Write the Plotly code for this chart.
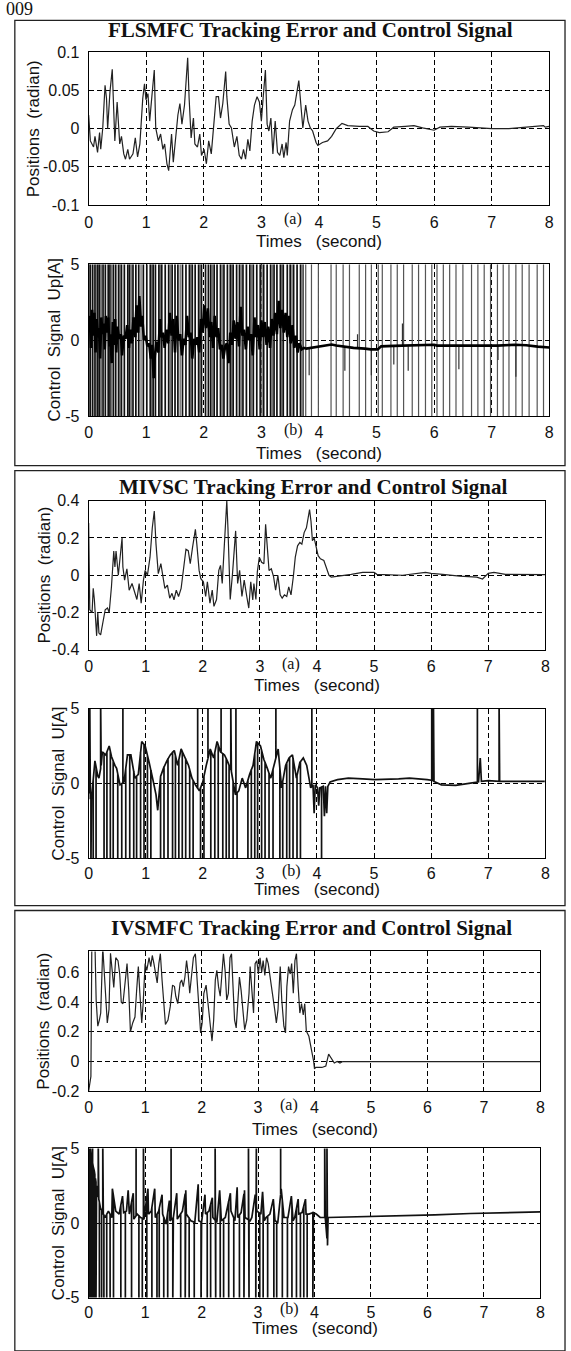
import plotly.graph_objects as go

# ---------------- DATA ----------------
# (1a) FLSMFC tracking error [rad]
t1a = [0.00,0.03,0.085,0.11,0.155,0.19,0.21,0.245,0.285,0.31,0.33,0.37,0.41,0.455,0.495,0.54,0.57,0.61,0.64,0.68,
       0.71,0.77,0.81,0.85,0.89,0.94,0.97,0.995,1.03,1.06,1.10,1.14,1.165,1.21,1.25,1.29,1.32,1.36,1.39,1.44,
       1.47,1.52,1.55,1.585,1.62,1.665,1.72,1.745,1.78,1.82,1.845,1.89,1.93,1.96,2.005,2.045,2.085,2.13,2.175,2.215,
       2.255,2.29,2.33,2.38,2.40,2.44,2.48,2.53,2.575,2.615,2.655,2.69,2.725,2.765,2.80,2.84,2.88,2.925,2.965,3.00,
       3.03,3.07,3.10,3.13,3.165,3.20,3.24,3.28,3.32,3.36,3.39,3.43,3.45,3.49,3.54,3.58,3.65,3.675,3.72,3.77,
       3.81,3.85,3.89,3.95,3.98,4.06,4.15,4.22,4.30,4.40,4.50,4.70,4.85,4.95,5.05,5.20,5.30,5.50,5.65,5.80,
       6.00,6.10,6.30,6.60,7.00,7.30,7.60,7.90,7.93,8.00]
e1a = [0.018,-0.016,-0.024,-0.010,-0.031,-0.005,-0.027,0.001,0.057,0.040,0.000,0.048,0.078,-0.016,0.035,-0.020,-0.010,-0.033,-0.040,-0.027,
       -0.040,-0.033,-0.012,-0.037,-0.020,0.040,0.059,0.038,0.046,0.010,0.044,0.077,0.001,-0.016,-0.007,-0.027,-0.020,-0.046,-0.055,-0.007,
       -0.044,-0.005,0.018,0.033,0.006,0.031,0.093,0.040,-0.012,0.014,-0.020,-0.024,-0.007,-0.035,-0.027,-0.046,-0.016,-0.033,0.010,0.042,
       0.042,0.014,0.033,0.075,0.042,0.006,0.001,-0.024,-0.010,-0.035,-0.040,-0.027,-0.040,-0.014,-0.029,0.010,0.031,0.042,0.035,0.010,
       0.040,0.077,0.006,-0.003,0.014,-0.033,0.010,-0.031,-0.035,-0.020,-0.038,-0.018,-0.035,0.010,0.025,0.031,0.063,0.040,0.001,0.031,
       0.010,0.001,-0.003,-0.018,-0.022,-0.018,-0.016,-0.010,0.000,0.007,0.004,0.003,0.003,-0.003,-0.005,-0.004,0.002,0.003,0.004,0.001,
       -0.002,0.002,0.003,0.002,0.000,0.000,0.002,0.004,0.002,0.003]

# (1b) FLSMFC control signal Up [A]
t1b = [0.00,0.02,0.04,0.06,0.08,0.10,0.12,0.14,0.16,0.18,0.20,0.22,0.24,0.26,0.28,0.30,0.32,0.34,0.36,0.38,
       0.40,0.42,0.44,0.46,0.48,0.50,0.53,0.56,0.58,0.61,0.64,0.67,0.70,0.72,0.75,0.78,0.81,0.83,0.86,0.88,
       0.91,0.93,0.96,0.99,1.02,1.05,1.08,1.10,1.13,1.15,1.18,1.21,1.24,1.26,1.29,1.32,1.35,1.38,1.41,1.44,
       1.47,1.50,1.53,1.56,1.59,1.62,1.65,1.68,1.71,1.74,1.77,1.80,1.83,1.86,1.89,1.92,1.95,1.98,2.01,2.04,
       2.07,2.10,2.13,2.16,2.19,2.22,2.25,2.28,2.31,2.34,2.37,2.40,2.43,2.46,2.49,2.52,2.55,2.58,2.61,2.64,
       2.67,2.70,2.73,2.76,2.79,2.82,2.85,2.88,2.91,2.94,2.97,3.00,3.03,3.06,3.09,3.12,3.15,3.18,3.21,3.24,
       3.27,3.30,3.33,3.36,3.39,3.42,3.45,3.48,3.51,3.54,3.57,3.60,3.63,3.66,3.70,3.74,3.78,3.85,3.95,4.05,
       4.15,4.22,4.30,4.45,4.60,4.80,4.90,5.02,5.08,5.30,5.60,5.80,6.00,6.05,6.50,6.80,7.10,7.40,7.60,7.80,8.00]
u1b = [0.5,1.6,-0.5,2.0,0.3,1.8,-0.8,1.4,0.2,0.8,-1.2,1.5,0.4,1.1,-0.6,1.6,0.5,1.5,-0.4,0.4,
       -1.5,1.2,-0.3,1.4,-0.8,0.9,0.1,0.4,-1.0,0.3,0.1,1.0,-0.5,0.7,-0.2,1.5,0.2,2.3,0.5,2.9,
       0.9,1.6,0.0,0.3,-0.4,-0.2,-1.2,-0.3,-2.5,-1.0,-0.1,-0.8,1.4,0.2,0.5,-0.5,0.7,-0.2,1.8,0.3,
       1.4,-0.8,1.6,0.0,0.4,-1.0,0.1,-0.3,1.6,0.2,0.5,-1.2,0.1,-0.3,0.2,-0.8,1.4,0.5,2.3,0.8,
       2.1,0.2,1.2,-0.5,1.6,0.2,0.8,-0.6,-0.3,-1.2,-0.4,-0.2,-1.5,0.5,-0.3,1.3,0.1,1.2,-0.4,2.2,
       0.3,0.7,-0.6,0.9,0.0,0.4,-1.0,1.5,0.2,1.0,-0.6,1.3,0.2,1.2,-0.3,0.9,-0.5,1.4,0.3,1.8,
       0.4,2.6,0.8,2.0,0.5,1.8,0.2,1.6,-0.2,1.0,-0.5,0.3,-0.8,-0.2,-0.6,-0.5,-0.55,-0.5,-0.45,-0.4,
       -0.3,-0.28,-0.35,-0.43,-0.5,-0.55,-0.6,-0.6,-0.4,-0.37,-0.35,-0.36,-0.3,-0.35,-0.37,-0.36,-0.35,-0.3,-0.33,-0.42,-0.48]
full1b_dense = [0.03,0.07,0.11,0.16,0.19,0.25,0.29,0.34,0.37,0.43,0.47,0.52,0.57,0.62,0.68,0.71,0.77,0.82,0.87,0.95,
                1.01,1.07,1.12,1.16,1.22,1.27,1.33,1.39,1.45,1.50,1.55,1.63,1.69,1.75,1.80,1.85,1.91,1.96,2.03,2.08,
                2.12,2.18,2.23,2.29,2.35,2.41,2.46,2.51,2.57,2.62,2.68,2.74,2.80,2.86,2.92,2.98,3.04,3.10,3.16,3.22,
                3.27,3.33,3.38,3.45,3.50,3.56,3.62,3.68]
full1b_gray = [0.01,0.135,0.22,0.40,0.545,0.74,0.91,1.095,1.245,1.42,1.59,1.775,1.935,2.15,2.32,2.485,2.65,2.83,3.01,3.19,
               3.355,3.53,3.71]
full1b_sparse = [3.73,3.77,3.87,3.99,4.21,4.30,4.42,4.53,4.70,4.81,4.91,5.03,5.10,5.25,5.36,5.47,5.62,5.73,5.85,5.96,
                 6.05,6.16,6.27,6.38,6.50,6.65,6.76,6.87,6.98,7.10,7.20,7.30,7.42,7.53,7.65,7.79,7.90]
part1b_t  = [3.83,4.45,4.67,4.91,5.30,5.45,5.55,6.43,7.11,7.42]
part1b_lo = [-2.3,-2.0,-0.5,-2.3,-1.6,-0.4,-2.0,-1.9,-1.3,-2.4]
part1b_hi = [-0.5,-0.4,0.4,-0.55,-0.4,1.1,-0.4,-0.4,-0.35,-0.35]

# (2a) MIVSC tracking error [rad]
t2a = [0.00,0.02,0.06,0.08,0.10,0.14,0.16,0.18,0.21,0.25,0.29,0.33,0.36,0.40,0.44,0.46,0.48,0.52,0.55,0.585,
       0.60,0.63,0.67,0.71,0.76,0.80,0.845,0.885,0.92,0.96,0.99,1.03,1.075,1.115,1.15,1.18,1.22,1.265,1.305,1.335,
       1.38,1.42,1.46,1.495,1.535,1.575,1.62,1.665,1.705,1.745,1.78,1.82,1.87,1.895,1.935,1.965,2.01,2.05,2.08,2.125,
       2.165,2.195,2.24,2.28,2.31,2.34,2.38,2.42,2.44,2.48,2.52,2.55,2.575,2.61,2.645,2.685,2.725,2.77,2.805,2.84,
       2.875,2.895,2.93,2.955,2.99,3.03,3.07,3.10,3.125,3.16,3.20,3.24,3.275,3.315,3.355,3.39,3.43,3.47,3.505,3.545,
       3.585,3.62,3.66,3.70,3.735,3.775,3.815,3.87,3.895,3.92,3.95,3.975,4.02,4.06,4.12,4.16,4.21,4.25,4.40,4.60,
       4.80,5.00,5.05,5.50,5.90,6.00,6.20,6.50,6.80,6.90,7.00,7.10,7.30,8.00]
e2a = [0.28,-0.185,-0.20,-0.07,-0.13,-0.325,-0.20,-0.31,-0.32,-0.255,-0.185,-0.176,-0.20,-0.06,0.13,0.044,0.13,0.00,0.105,0.20,
       0.044,-0.026,0.035,-0.08,-0.044,-0.088,-0.13,-0.044,-0.15,-0.026,0.026,0.00,0.097,0.255,0.345,0.167,0.009,0.062,-0.009,-0.07,
       -0.053,-0.123,-0.097,-0.132,-0.08,-0.114,-0.07,0.044,0.14,0.132,0.062,0.15,0.246,0.167,0.026,-0.018,-0.035,-0.114,-0.035,-0.15,
       -0.08,-0.167,-0.13,0.026,0.053,-0.044,0.185,0.40,0.255,-0.13,0.009,0.13,0.238,-0.044,0.026,-0.114,-0.026,-0.114,-0.176,-0.035,
       -0.132,-0.044,-0.13,0.018,0.097,0.07,0.062,0.273,0.185,0.026,0.035,-0.009,-0.08,0.00,-0.105,-0.123,-0.105,-0.114,-0.062,-0.105,
       -0.009,0.097,0.158,0.176,0.167,0.229,0.255,0.352,0.29,0.185,0.20,0.167,0.105,0.088,0.079,0.044,0.00,-0.01,-0.005,0.005,
       0.015,0.015,0.005,0.00,0.015,0.01,0.005,-0.005,-0.01,-0.02,0.01,0.015,0.005,0.003]

# (2b) MIVSC control signal U [A] (saturating excursions included as +-5.5 samples)
t2b = [0.00,0.02,0.03,0.04,0.05,0.08,0.11,0.13,0.16,0.18,0.21,0.22,0.24,0.27,0.30,0.32,0.36,0.38,0.40,0.43,
       0.46,0.49,0.51,0.55,0.58,0.60,0.62,0.65,0.68,0.72,0.74,0.79,0.81,0.84,0.87,0.91,0.93,0.97,0.99,1.03,
       1.06,1.09,1.12,1.18,1.21,1.25,1.26,1.31,1.32,1.37,1.39,1.43,1.47,1.50,1.52,1.56,1.58,1.62,1.64,1.69,
       1.70,1.75,1.77,1.81,1.83,1.87,1.91,1.94,1.96,2.00,2.02,2.06,2.09,2.13,2.14,2.19,2.21,2.25,2.27,2.31,
       2.32,2.35,2.38,2.41,2.44,2.46,2.49,2.50,2.53,2.57,2.58,2.60,2.63,2.69,2.75,2.79,2.82,2.85,2.88,2.91,
       2.94,2.96,3.01,3.03,3.07,3.09,3.13,3.16,3.19,3.23,3.26,3.28,3.32,3.35,3.38,3.40,3.45,3.47,3.51,3.52,
       3.57,3.58,3.64,3.65,3.70,3.71,3.76,3.82,3.89,3.91,3.93,3.95,3.97,4.01,4.03,4.05,4.08,4.11,4.13,4.15,
       4.17,4.19,4.23,4.36,4.55,4.80,5.01,5.43,5.62,5.93,6.01,6.02,6.04,6.05,6.18,6.43,6.69,6.81,6.83,6.86,
       6.88,7.00,7.19,7.20,7.99]
u2b = [0.0,5.5,-1.0,-5.5,-1.0,-5.5,1.5,-5.5,0.5,0.35,5.5,1.2,2.1,-5.5,1.9,-5.5,2.5,-5.5,1.8,-5.5,
       1.2,1.0,-5.5,-0.1,-5.5,5.5,0.1,-5.5,1.9,-5.5,1.9,-5.5,0.35,-5.5,0.6,-5.5,2.8,-5.5,2.5,-5.5,
       1.4,-5.5,0.35,-0.75,-1.8,0.35,-5.5,1.0,-5.5,1.5,-5.5,1.9,-5.5,2.2,-5.5,1.2,-5.5,2.3,-5.5,1.7,
       -5.5,1.2,-5.5,0.35,-5.5,-0.1,5.5,-0.5,-5.5,0.1,-5.5,1.2,5.5,2.3,-5.5,1.7,-5.5,2.8,-5.5,2.1,
       5.5,-5.5,1.9,-5.5,1.4,-5.5,5.5,0.8,-5.5,-0.75,5.5,-5.5,-0.5,0.35,-0.3,-5.5,0.6,-5.5,1.2,-5.5,
       2.8,-5.5,2.5,-5.5,1.6,-5.5,1.0,-5.5,0.35,-5.5,1.4,5.5,2.3,-5.5,-0.3,-5.5,1.2,-5.5,1.7,-5.5,
       1.9,-5.5,0.35,-5.5,1.4,-5.5,1.7,1.2,-0.3,5.5,-0.1,-2.0,-0.1,-0.3,-1.5,-0.3,-5.5,-0.2,-2.2,-0.2,
       -2.0,-0.2,0.1,0.25,0.35,0.3,0.25,0.3,0.35,0.25,5.5,0.2,5.5,0.13,-0.1,-0.13,0.02,5.5,0.1,1.7,
       0.13,0.18,5.5,0.13,0.13]

# (3a) IVSMFC tracking error [rad]
t3a = [0.00,0.04,0.064,0.10,0.133,0.162,0.19,0.214,0.25,0.27,0.306,0.33,0.36,0.387,0.416,0.445,0.48,0.52,0.55,0.578,
       0.607,0.653,0.68,0.71,0.74,0.78,0.82,0.85,0.88,0.907,0.94,0.965,1.00,1.03,1.07,1.10,1.127,1.156,1.185,1.214,
       1.243,1.27,1.30,1.33,1.36,1.405,1.445,1.486,1.52,1.543,1.578,1.62,1.647,1.676,1.705,1.734,1.763,1.79,1.82,1.855,
       1.89,1.925,1.954,1.983,2.01,2.04,2.08,2.12,2.156,2.185,2.214,2.243,2.27,2.30,2.33,2.36,2.387,2.416,2.445,2.474,
       2.503,2.53,2.56,2.584,2.613,2.64,2.67,2.70,2.734,2.763,2.80,2.84,2.86,2.89,2.92,2.948,2.977,3.006,3.035,3.064,
       3.09,3.12,3.15,3.18,3.21,3.254,3.295,3.324,3.353,3.393,3.42,3.457,3.486,3.51,3.54,3.57,3.595,3.624,3.653,3.68,
       3.71,3.74,3.77,3.80,3.827,3.855,3.90,3.95,3.983,4.00,4.02,4.13,4.20,4.25,4.30,4.35,4.40,4.45,4.50,8.00]
e3a = [-0.20,-0.10,1.20,1.00,0.415,0.238,0.28,0.327,0.77,0.615,0.415,0.26,0.35,0.73,0.59,0.50,0.70,0.68,0.59,0.40,
       0.39,0.59,0.66,0.48,0.20,0.26,0.30,0.48,0.64,0.46,0.26,0.39,0.66,0.615,0.70,0.64,0.715,0.66,0.59,0.53,
       0.66,0.727,0.55,0.39,0.25,0.28,0.37,0.515,0.505,0.44,0.39,0.53,0.55,0.505,0.57,0.68,0.59,0.46,0.59,0.70,
       0.727,0.505,0.327,0.193,0.26,0.46,0.515,0.39,0.238,0.138,0.28,0.55,0.615,0.505,0.44,0.59,0.727,0.615,0.415,0.46,
       0.70,0.727,0.44,0.28,0.227,0.39,0.57,0.48,0.30,0.215,0.28,0.46,0.64,0.46,0.327,0.66,0.68,0.59,0.70,0.60,
       0.68,0.58,0.70,0.66,0.59,0.46,0.35,0.26,0.35,0.64,0.415,0.238,0.193,0.505,0.64,0.59,0.66,0.46,0.68,0.727,
       0.505,0.327,0.39,0.315,0.39,0.205,0.17,0.082,0.005,-0.05,-0.04,-0.04,-0.03,0.05,0.02,-0.01,0.00,-0.01,0.00,0.00]

# (3b) IVSMFC control signal U [A] (saturating excursions included as +-5.5 samples)
t3b = [0.00,0.01,0.02,0.03,0.04,0.05,0.06,0.07,0.08,0.09,0.10,0.11,0.12,0.13,0.14,0.16,0.17,0.18,0.19,0.21,
       0.23,0.25,0.26,0.27,0.29,0.32,0.35,0.38,0.41,0.42,0.44,0.48,0.54,0.57,0.60,0.62,0.65,0.67,0.70,0.72,
       0.76,0.79,0.80,0.84,0.86,0.89,0.92,0.95,0.97,0.98,1.03,1.05,1.06,1.11,1.12,1.17,1.18,1.21,1.24,1.25,
       1.30,1.31,1.33,1.37,1.40,1.43,1.44,1.46,1.49,1.50,1.56,1.57,1.63,1.66,1.71,1.72,1.73,1.78,1.81,1.87,
       1.88,1.94,1.95,1.99,2.00,2.06,2.07,2.10,2.13,2.16,2.19,2.20,2.24,2.25,2.27,2.32,2.33,2.35,2.39,2.42,
       2.48,2.51,2.52,2.57,2.59,2.63,2.64,2.67,2.70,2.75,2.76,2.77,2.83,2.84,2.86,2.89,2.95,2.96,2.97,2.98,
       3.03,3.05,3.08,3.09,3.11,3.14,3.17,3.21,3.27,3.28,3.30,3.33,3.35,3.40,3.41,3.43,3.46,3.52,3.53,3.59,
       3.60,3.62,3.65,3.68,3.71,3.72,3.75,3.78,3.81,3.84,3.85,3.87,3.90,3.97,3.98,4.03,4.10,4.18,4.19,4.22,
       4.23,4.24,4.86,5.49,6.13,6.76,7.40,8.00]
u3b = [5.5,-5.5,5.5,4.8,-5.5,4.5,-5.5,5.5,3.8,-5.5,3.5,-5.5,3.0,-5.5,2.5,1.9,5.5,1.6,-5.5,1.0,
       -5.5,5.5,0.6,-5.5,0.37,-5.5,0.8,-5.5,0.37,2.3,-5.5,0.8,0.6,-5.5,1.8,0.7,-5.5,0.8,2.2,0.6,
       -5.5,2.0,0.26,5.5,0.6,-5.5,0.37,-5.5,5.5,0.26,-5.5,2.3,0.6,0.8,-5.5,2.3,0.37,-5.5,0.8,-5.5,
       1.9,0.6,-5.5,-0.07,-5.5,1.5,0.15,5.5,-5.5,0.37,2.0,0.26,-5.5,0.8,-5.5,2.2,0.6,-5.5,0.15,-5.5,
       0.04,2.6,0.15,-5.5,0.04,1.9,0.6,-5.5,0.8,-5.5,1.7,0.37,5.5,-5.5,0.04,2.2,-5.5,0.15,-5.5,0.37,
       -5.5,2.0,0.8,-5.5,0.15,2.4,0.37,-5.5,0.7,-5.5,2.2,0.37,5.5,-5.5,0.15,0.37,1.9,-5.5,5.5,0.8,
       -5.5,0.6,2.1,-5.5,0.15,0.37,-5.5,0.6,1.6,-5.5,0.15,-5.5,0.04,5.5,2.3,-5.5,0.37,-5.5,0.37,1.8,
       -5.5,0.15,0.37,-5.5,1.6,0.6,-5.5,0.7,-5.5,1.6,0.6,-5.5,0.6,-5.5,0.7,0.6,0.37,5.5,0.37,5.5,
       -1.5,0.37,0.42,0.48,0.55,0.64,0.68,0.75]
SAT = 5.5  # value used in the series for a saturated (clipped) excursion

# tick labels
xticks = [0, 1, 2, 3, 4, 5, 6, 7, 8]
yt1a = [-0.1, -0.05, 0, 0.05, 0.1]; yl1a = ["-0.1", "-0.05", "0", "0.05", "0.1"]
yt2a = [-0.4, -0.2, 0, 0.2, 0.4];  yl2a = ["-0.4", "-0.2", "0", "0.2", "0.4"]
yt3a = [-0.2, 0, 0.2, 0.4, 0.6];   yl3a = ["-0.2", "0", "0.2", "0.4", "0.6"]
ytu = [-5, 0, 5];                  ylu = ["-5", "0", "5"]
titles = ["FLSMFC Tracking Error and Control Signal",
          "MIVSC Tracking Error and Control Signal",
          "IVSMFC Tracking Error and Control Signal"]

# ---------------- LAYOUT HELPERS ----------------
W, H = 571, 1351
def fx(p): return p / W
def fy(p): return 1 - p / H

SANS = "Liberation Sans, Arial, sans-serif"
SERIF = "Liberation Serif, Times New Roman, serif"

# px boxes: (left, right, top, bottom)
areas = [
    (86, 554, 45, 199.5),
    (86, 554, 259.5, 413.5),
    (86, 550, 499, 650),
    (86, 550, 709.5, 861),
    (86, 545, 955.5, 1097),
    (86, 545, 1155, 1306),
]
yranges = [[-0.1, 0.1], [-5, 5], [-0.4, 0.4], [-5, 5], [-0.2, 0.742], [-5, 5]]
ytv = [yt1a, ytu, yt2a, ytu, yt3a, ytu]
ytx = [yl1a, ylu, yl2a, ylu, yl3a, ylu]
xticklen = [3, 2, 2, 1, 2, 0]
lab_y = [214, 427, 664, 874, 1111, 1318]
xtitle_y = [236, 451, 686, 893, 1136, 1337]

fig = go.Figure()

def spikes(ts, lo, hi):
    xs, ys = [], []
    for t, a, b in zip(ts, lo, hi):
        xs += [t, t, None]
        ys += [a, b, None]
    return xs, ys

def vertical_excursions(ts, vs):
    """Saturated samples are drawn as vertical strokes leaving the line
    that joins the neighbouring unsaturated samples (so the strokes are vertical)."""
    n = len(ts)
    normal = [i for i in range(n) if abs(vs[i]) < SAT]
    xs, ys = [], []
    for i in range(n):
        t, v = ts[i], vs[i]
        if abs(v) < SAT:
            xs.append(t); ys.append(v)
            continue
        prev = max([j for j in normal if j < i], default=None)
        nxt = min([j for j in normal if j > i], default=None)
        if prev is None or nxt is None:
            xs.append(t); ys.append(v)
            continue
        w = (t - ts[prev]) / (ts[nxt] - ts[prev])
        b = vs[prev] + w * (vs[nxt] - vs[prev])
        xs += [t, t, t]
        ys += [b, v, b]
    return xs, ys

def add_line(i, x, y, color="#111", width=1.2):
    fig.add_trace(go.Scatter(x=x, y=y, mode="lines", line=dict(color=color, width=width),
                             xaxis="x" if i == 1 else f"x{i}", yaxis="y" if i == 1 else f"y{i}",
                             showlegend=False, hoverinfo="skip", connectgaps=False))

# 1a
add_line(1, t1a, e1a, "#222", 1.2)
# 1b
xs, ys = spikes(full1b_gray, [-5] * len(full1b_gray), [5] * len(full1b_gray))
add_line(2, xs, ys, "#777", 1.4)
xs, ys = spikes(full1b_dense, [-5] * len(full1b_dense), [5] * len(full1b_dense))
add_line(2, xs, ys, "#111", 1.7)
xs, ys = spikes(full1b_sparse, [-5] * len(full1b_sparse), [5] * len(full1b_sparse))
add_line(2, xs, ys, "#555", 1.2)
xs, ys = spikes(part1b_t, part1b_lo, part1b_hi)
add_line(2, xs, ys, "#333", 1.2)
add_line(2, t1b, u1b, "#000", 2.6)
# 2a
add_line(3, t2a, e2a, "#222", 1.2)
# 2b
xs, ys = vertical_excursions(t2b, u2b)
add_line(4, xs, ys, "#111", 1.7)
# 3a
add_line(5, t3a, e3a, "#222", 1.2)
# 3b
xs, ys = vertical_excursions(t3b, u3b)
add_line(6, xs, ys, "#111", 1.7)

layout = dict(width=W, height=H, autosize=False, margin=dict(l=0, r=0, t=0, b=0),
              paper_bgcolor="white", plot_bgcolor="white", showlegend=False)
for k, (l, r, t, b) in enumerate(areas):
    i = k + 1
    xn = "xaxis" if i == 1 else f"xaxis{i}"
    yn = "yaxis" if i == 1 else f"yaxis{i}"
    ax = dict(domain=[fx(l), fx(r)], range=[0, 8], tickvals=xticks, ticktext=[str(v) for v in xticks],
              showgrid=True, gridcolor="#000", gridwidth=1, griddash="5px,3px", zeroline=False,
              showline=True, mirror=True, linecolor="#000", linewidth=1,
              ticks="outside", ticklen=xticklen[k], tickcolor="rgba(0,0,0,0)",
              tickfont=dict(family=SANS, size=16, color="#111"),
              anchor="y" if i == 1 else f"y{i}", fixedrange=True)
    ay = dict(domain=[fy(b), fy(t)], range=yranges[k], tickvals=ytv[k], ticktext=ytx[k],
              showgrid=True, gridcolor="#000", gridwidth=1, griddash="5px,3px", zeroline=False,
              showline=True, mirror=True, linecolor="#000", linewidth=1,
              ticks="outside", ticklen=5, tickcolor="rgba(0,0,0,0)",
              tickfont=dict(family=SANS, size=16, color="#111"),
              anchor="x" if i == 1 else f"x{i}", fixedrange=True)
    layout[xn] = ax
    layout[yn] = ay

ann = []
# Titles
for txt, (xc, yc) in zip(titles, [(311, 22), (314, 485), (312, 932)]):
    ann.append(dict(text=f"<b>{txt}</b>", x=fx(xc), y=fy(yc), xref="paper", yref="paper",
                    xanchor="center", yanchor="middle", showarrow=False,
                    font=dict(family=SERIF, size=21, color="#111")))
# x-axis titles
for (l, r, t, b), yc in zip(areas, xtitle_y):
    ann.append(dict(text="Times   (second)", x=fx((l + r) / 2), y=fy(yc), xref="paper", yref="paper",
                    xanchor="center", yanchor="middle", showarrow=False,
                    font=dict(family=SANS, size=17, color="#111")))
# y-axis titles
ylabels = ["Positions  (radian)", "Control  Signal  Up[A]", "Positions  (radian)",
           "Control  Signal  U[A]", "Positions  (radian)", "Control  Signal  U[A]"]
for (l, r, t, b), txt, xc in zip(areas, ylabels, [30, 51, 41, 55, 40, 55]):
    ann.append(dict(text=txt, x=fx(xc), y=fy((t + b) / 2), xref="paper", yref="paper",
                    xanchor="center", yanchor="middle", textangle=-90, showarrow=False,
                    font=dict(family=SANS, size=17, color="#111")))
# (a)/(b) labels
for k, (yc, lab) in enumerate(zip(lab_y, ["(a)", "(b)"] * 3)):
    i = k + 1
    ann.append(dict(text=lab, x=3.55, y=fy(yc), xref="x" if i == 1 else f"x{i}", yref="paper",
                    xanchor="center", yanchor="middle", showarrow=False,
                    font=dict(family=SERIF, size=16, color="#111")))
# cut-off year at top-left
ann.append(dict(text="009", x=0, y=fy(1), xref="paper", yref="paper", xanchor="left", yanchor="middle",
                showarrow=False, font=dict(family=SERIF, size=18, color="#111")))
layout["annotations"] = ann

# panel frames
shapes = []
for (top, bot) in [(12.5, 463.5), (468.5, 909), (914, 1360)]:
    shapes.append(dict(type="rect", xref="paper", yref="paper", x0=fx(11), x1=fx(570),
                       y0=fy(bot), y1=fy(top), line=dict(color="#222", width=1.3)))
layout["shapes"] = shapes

fig.update_layout(**layout)
fig.write_html("out.html", config={"displayModeBar": False},
               post_script="document.body.style.margin='0px';document.body.style.overflow='hidden';")
